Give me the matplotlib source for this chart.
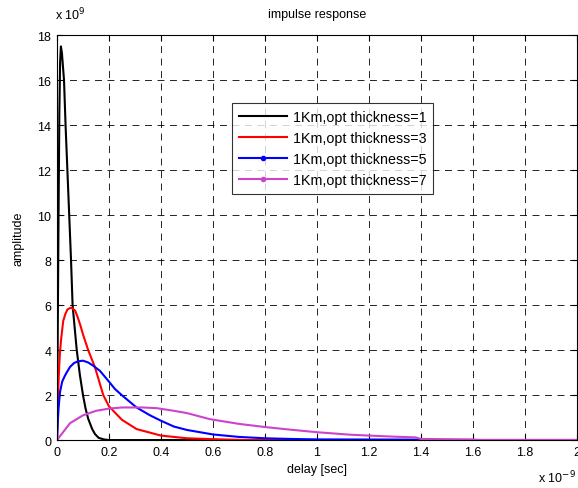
import matplotlib
matplotlib.use("Agg")
import matplotlib.pyplot as plt
from matplotlib.lines import Line2D

plt.rcParams['font.family'] = ['Liberation Sans', 'DejaVu Sans']
plt.rcParams['lines.scale_dashes'] = False

# delay in units of 1e-9 s, amplitude in units of 1e9
x_k1 = [0, 0.003, 0.006, 0.009, 0.012, 0.015, 0.019, 0.023, 0.027, 0.033, 0.040,
        0.047, 0.054, 0.060, 0.068, 0.076, 0.088, 0.100, 0.110, 0.120, 0.135, 0.146,
        0.160, 0.180, 0.200, 0.300, 0.500, 1.0, 2.0]
y_k1 = [0, 5.0, 10.0, 14.5, 16.8, 17.5, 17.2, 16.6, 16.0, 14.0, 12.0,
        10.0, 8.0, 6.0, 5.0, 4.0, 2.9, 2.0, 1.4, 0.95, 0.5, 0.27,
        0.1, 0.03, 0.0, 0.0, 0.0, 0.0, 0.0]

x_k3 = [0, 0.003, 0.006, 0.009, 0.0115, 0.016, 0.024, 0.032, 0.040, 0.048, 0.056,
        0.070, 0.080, 0.090, 0.100, 0.110, 0.120, 0.146, 0.178, 0.200, 0.250, 0.306,
        0.400, 0.500, 0.600, 0.700, 0.750, 2.0]
y_k3 = [0, 1.5, 2.6, 3.4, 3.9, 4.5, 5.3, 5.6, 5.8, 5.86, 5.88,
        5.75, 5.45, 5.1, 4.7, 4.35, 4.0, 3.24, 2.0, 1.5, 0.9, 0.49,
        0.2, 0.08, 0.04, 0.01, 0.0, 0.0]

x_k5 = [0, 0.003, 0.006, 0.0115, 0.020, 0.030, 0.037, 0.050, 0.065, 0.080, 0.100,
        0.120, 0.140, 0.165, 0.197, 0.223, 0.249, 0.306, 0.358, 0.400, 0.450, 0.500,
        0.600, 0.700, 0.800, 0.900, 1.0, 1.4, 1.42, 2.0]
y_k5 = [0, 0.8, 1.4, 2.13, 2.6, 2.85, 3.0, 3.25, 3.42, 3.5, 3.53,
        3.45, 3.3, 3.08, 2.64, 2.27, 2.0, 1.45, 1.1, 0.86, 0.6, 0.45,
        0.25, 0.14, 0.08, 0.05, 0.03, 0.02, 0.0, 0.0]

x_k7 = [0, 0.020, 0.050, 0.100, 0.150, 0.200, 0.250, 0.330, 0.383, 0.450, 0.500,
        0.588, 0.700, 0.800, 0.900, 1.0, 1.127, 1.2, 1.3, 1.38, 1.40, 1.6, 1.62, 2.0]
y_k7 = [0, 0.3, 0.75, 1.1, 1.3, 1.4, 1.45, 1.45, 1.42, 1.3, 1.2,
        0.93, 0.72, 0.58, 0.46, 0.35, 0.24, 0.2, 0.15, 0.12, 0.05, 0.03, 0.01, 0.01]

labels = ['1Km,opt thickness=1', '1Km,opt thickness=3',
          '1Km,opt thickness=5', '1Km,opt thickness=7']
colors = ['black', 'red', 'blue', '#cc44cc']
markers = [None, None, '.', '.']

fig = plt.figure(figsize=(5.78, 4.89), dpi=100)
ax = fig.add_axes([0.0986, 0.098, 0.8995, 0.828])

series = [(x_k1, y_k1), (x_k3, y_k3), (x_k5, y_k5), (x_k7, y_k7)]
for (xs, ys), c in zip(series, colors):
    ax.plot(xs, ys, color=c, lw=1.5)

ax.set_xlim(0, 2)
ax.set_ylim(0, 18)
ax.set_xticks([0, 0.2, 0.4, 0.6, 0.8, 1.0, 1.2, 1.4, 1.6, 1.8, 2.0])
ax.set_xticklabels(['0', '0.2', '0.4', '0.6', '0.8', '1', '1.2', '1.4', '1.6', '1.8', '2'])
ax.set_yticks(range(0, 19, 2))
ax.tick_params(direction='in', length=4, top=True, right=True, labelsize=9, pad=4)
ax.grid(True, color='black', linestyle=(0, (5, 4)), lw=0.6)
for s in ax.spines.values():
    s.set_linewidth(0.8)

ax.set_title('impulse response', fontsize=9, pad=13)
ax.set_xlabel('delay [sec]', fontsize=9, labelpad=4)
ax.set_ylabel('amplitude', fontsize=9, labelpad=9)
fig.text(0.096, 0.952, r'x 10$^{9}$', fontsize=9, ha='left', va='bottom')
fig.text(0.93, 0.005, r'x 10$^{-9}$', fontsize=9, ha='left', va='bottom')

handles = [Line2D([], [], color=c, lw=1.5, marker=m, markersize=6)
           for c, m in zip(colors, markers)]
leg = ax.legend(handles, labels, loc='upper left', bbox_to_anchor=(0.337, 0.832),
                fontsize=10.3, frameon=True, fancybox=False, edgecolor='black',
                handlelength=3.4, handletextpad=0.4, borderpad=0.45,
                labelspacing=0.5, borderaxespad=0)
leg.get_frame().set_linewidth(0.8)

fig.savefig('out.png', dpi=100)
